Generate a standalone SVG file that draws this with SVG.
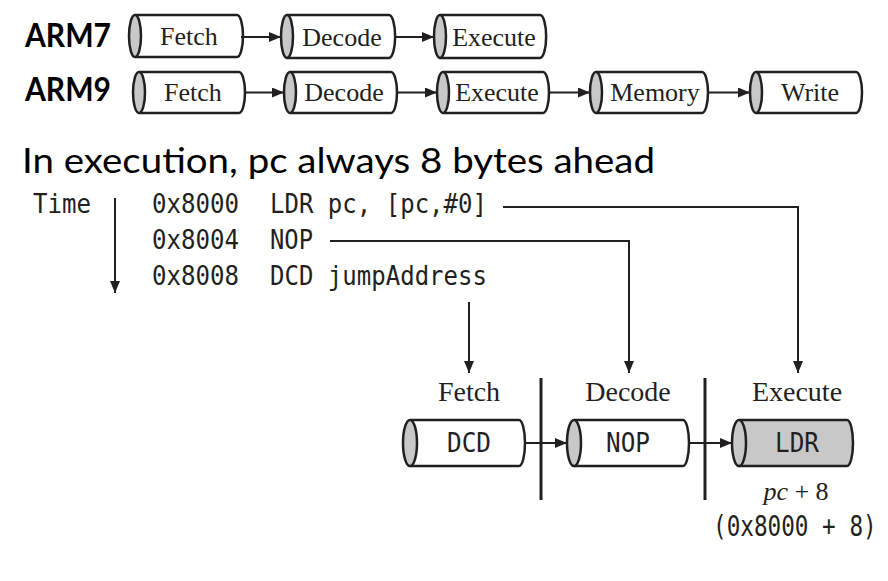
<svg xmlns="http://www.w3.org/2000/svg" width="888" height="581" viewBox="0 0 888 581">
<style>
.body{fill:#fff;stroke:#231f20;stroke-width:2.5}
.cap{fill:#c8c8c8;stroke:#231f20;stroke-width:2.5}
.gray{fill:#c8c8c8;stroke:#231f20;stroke-width:2.5}
.ser{font-family:"Liberation Serif","Times New Roman",serif;font-size:26px;fill:#231f20}
.ser2{font-family:"Liberation Serif","Times New Roman",serif;font-size:28px;fill:#231f20}
.mono{font-family:"DejaVu Sans Mono","Liberation Mono",monospace;font-size:26px;fill:#231f20}
.big{font-family:Lato,"Open Sans",sans-serif;font-size:33px;fill:#000}
.ln{fill:none;stroke:#231f20;stroke-width:2}
.sep{fill:none;stroke:#231f20;stroke-width:3}
</style>
<defs>
<marker id="ah" viewBox="0 0 12 10" refX="12" refY="5" markerWidth="12" markerHeight="10" markerUnits="userSpaceOnUse" orient="auto">
<path d="M0,0 L12,5 L0,10 z" fill="#231f20"/>
</marker>
</defs>
<rect width="888" height="581" fill="#fff"/>

<text class="big" x="25" y="47" font-weight="bold" textLength="86" lengthAdjust="spacingAndGlyphs">ARM7</text>
<text class="big" x="25" y="101" font-weight="bold" textLength="86" lengthAdjust="spacingAndGlyphs">ARM9</text>

<g id="arm7-fetch"><path class="body" d="M135,15 L237,15 A6,21 0 0 1 237,57 L135,57"/><ellipse class="cap" cx="135" cy="36" rx="6" ry="21"/><text class="ser" x="189" y="45" text-anchor="middle">Fetch</text></g>
<g id="arm7-decode"><path class="body" d="M287,15 L389,15 A6,21 0 0 1 389,58 L287,58"/><ellipse class="cap" cx="287" cy="36.5" rx="6" ry="21.5"/><text class="ser" x="342" y="46" text-anchor="middle">Decode</text></g>
<g id="arm7-execute"><path class="body" d="M440,15 L540,15 A6,21 0 0 1 540,58 L440,58"/><ellipse class="cap" cx="440" cy="36.5" rx="6" ry="21.5"/><text class="ser" x="494" y="46" text-anchor="middle">Execute</text></g>

<g id="arm9-fetch"><path class="body" d="M139,72 L239,72 A6,20.5 0 0 1 239,113 L139,113"/><ellipse class="cap" cx="139" cy="92.5" rx="6" ry="20.5"/><text class="ser" x="193" y="101" text-anchor="middle">Fetch</text></g>
<g id="arm9-decode"><path class="body" d="M290,72 L391,72 A6,20.5 0 0 1 391,113 L290,113"/><ellipse class="cap" cx="290" cy="92.5" rx="6" ry="20.5"/><text class="ser" x="344" y="101" text-anchor="middle">Decode</text></g>
<g id="arm9-execute"><path class="body" d="M443,72 L543,72 A6,20.5 0 0 1 543,113 L443,113"/><ellipse class="cap" cx="443" cy="92.5" rx="6" ry="20.5"/><text class="ser" x="497" y="101" text-anchor="middle">Execute</text></g>
<g id="arm9-memory"><path class="body" d="M596,72 L702,72 A6,20.5 0 0 1 702,113 L596,113"/><ellipse class="cap" cx="596" cy="92.5" rx="6" ry="20.5"/><text class="ser" x="655" y="101" text-anchor="middle">Memory</text></g>
<g id="arm9-write"><path class="body" d="M756,72 L856,72 A6,20.5 0 0 1 856,113 L756,113"/><ellipse class="cap" cx="756" cy="92.5" rx="6" ry="20.5"/><text class="ser" x="810" y="101" text-anchor="middle">Write</text></g>

<text class="big" x="22" y="173" style="font-size:34px" textLength="633" lengthAdjust="spacingAndGlyphs">In execution, pc always 8 bytes ahead</text>

<g id="code">
<text class="mono" x="33" y="213" textLength="58" lengthAdjust="spacingAndGlyphs">Time</text>
<text class="mono" x="152" y="213" textLength="87" lengthAdjust="spacingAndGlyphs">0x8000</text>
<text class="mono" x="270" y="213" textLength="217" lengthAdjust="spacingAndGlyphs">LDR pc, [pc,#0]</text>
<text class="mono" x="152" y="249" textLength="87" lengthAdjust="spacingAndGlyphs">0x8004</text>
<text class="mono" x="270" y="249" textLength="43" lengthAdjust="spacingAndGlyphs">NOP</text>
<text class="mono" x="152" y="285" textLength="87" lengthAdjust="spacingAndGlyphs">0x8008</text>
<text class="mono" x="270" y="285" textLength="217" lengthAdjust="spacingAndGlyphs">DCD jumpAddress</text>
</g>

<g id="stage-labels">
<text class="ser2" x="469" y="401" text-anchor="middle">Fetch</text>
<text class="ser2" x="628" y="401" text-anchor="middle">Decode</text>
<text class="ser2" x="797" y="401" text-anchor="middle">Execute</text>
</g>

<g id="fetch-dcd"><path class="body" d="M410,420 L519,420 A6,23 0 0 1 519,466 L410,466"/><ellipse class="cap" cx="410" cy="443" rx="7" ry="23"/><text class="mono" x="447" y="452" textLength="44" lengthAdjust="spacingAndGlyphs">DCD</text></g>
<g id="decode-nop"><path class="body" d="M574,420 L683,420 A6,23 0 0 1 683,466 L574,466"/><ellipse class="cap" cx="574" cy="443" rx="7" ry="23"/><text class="mono" x="606" y="452" textLength="44" lengthAdjust="spacingAndGlyphs">NOP</text></g>
<g id="execute-ldr"><path class="gray" d="M739,420 L847,420 A6,23 0 0 1 847,466 L739,466"/><ellipse class="cap" cx="739" cy="443" rx="7" ry="23"/><text class="mono" x="775" y="452" textLength="44" lengthAdjust="spacingAndGlyphs">LDR</text></g>

<line class="sep" x1="541" y1="378" x2="541" y2="500"/>
<line class="sep" x1="705" y1="378" x2="705" y2="500"/>

<text class="ser" x="796" y="500" text-anchor="middle"><tspan font-style="italic">pc</tspan> + 8</text>
<text class="mono" style="font-size:22px" transform="translate(713,536) scale(1.03,1.25)" x="0" y="0">(0x8000 + 8)</text>

<g id="connectors">
<line class="ln" x1="241" y1="37" x2="281" y2="37" marker-end="url(#ah)"/>
<line class="ln" x1="394" y1="37" x2="434" y2="37" marker-end="url(#ah)"/>
<line class="ln" x1="245" y1="92.5" x2="284" y2="92.5" marker-end="url(#ah)"/>
<line class="ln" x1="397" y1="92.5" x2="437" y2="92.5" marker-end="url(#ah)"/>
<line class="ln" x1="549" y1="92.5" x2="590" y2="92.5" marker-end="url(#ah)"/>
<line class="ln" x1="708" y1="92.5" x2="750" y2="92.5" marker-end="url(#ah)"/>
<line class="ln" x1="115" y1="198" x2="115" y2="293" marker-end="url(#ah)"/>
<polyline class="ln" points="503,207 798,207 798,373" marker-end="url(#ah)"/>
<polyline class="ln" points="330,241 629,241 629,373" marker-end="url(#ah)"/>
<line class="ln" x1="469" y1="302" x2="469" y2="373" marker-end="url(#ah)"/>
<line class="ln" x1="525" y1="443" x2="567" y2="443" marker-end="url(#ah)"/>
<line class="ln" x1="689" y1="443" x2="732" y2="443" marker-end="url(#ah)"/>
</g>
</svg>
